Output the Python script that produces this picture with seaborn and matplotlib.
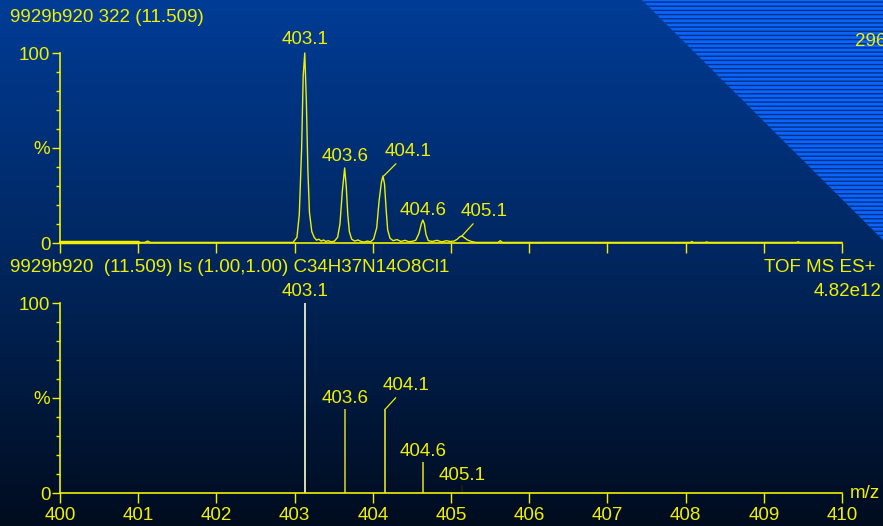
import numpy as np
import matplotlib
matplotlib.use("Agg")
import matplotlib.pyplot as plt
import seaborn as sns
import pandas as pd
from matplotlib.colors import LinearSegmentedColormap
from matplotlib.patches import Polygon

sns.set_theme(style="white")
plt.rcParams['font.family'] = ['Liberation Sans', 'DejaVu Sans']
plt.rcParams['hatch.color'] = "#00307f"

YEL = "#f0f000"
FS = 13.5

profil_mz = [400.00, 401.08, 401.12, 401.16, 402.98, 403.03, 403.06, 403.09, 403.11, 403.13,
             403.15, 403.17, 403.19, 403.22, 403.25, 403.28, 403.31, 403.34, 403.37, 403.40,
             403.43, 403.47, 403.51, 403.55, 403.58, 403.61, 403.64, 403.66, 403.68, 403.70,
             403.73, 403.77, 403.81, 403.85, 403.89, 403.93, 403.97, 404.01, 404.05, 404.08,
             404.11, 404.13, 404.15, 404.17, 404.19, 404.22, 404.26, 404.31, 404.36, 404.41,
             404.46, 404.51, 404.55, 404.59, 404.62, 404.64, 404.66, 404.68, 404.71, 404.76,
             404.82, 404.88, 404.94, 404.99, 405.04, 405.08, 405.11, 405.14, 405.17, 405.21,
             405.26, 405.32, 405.60, 405.63, 405.66, 408.06, 408.08, 408.10, 408.25, 408.27,
             408.29, 409.42, 409.44, 409.46, 410.00]
profil_int = [0.6, 0.3, 1.0, 0.3, 0.3, 3.0, 15.0, 50.0, 88.0, 100.0,
              75.0, 38.0, 16.0, 6.0, 3.0, 1.5, 2.0, 1.0, 1.6, 0.8,
              1.2, 0.6, 1.0, 3.0, 10.0, 27.0, 39.5, 30.0, 15.0, 6.0,
              2.0, 1.0, 1.6, 0.8, 0.5, 1.0, 0.6, 2.0, 8.0, 22.0,
              32.0, 35.3, 31.0, 18.0, 7.0, 2.5, 1.2, 1.8, 0.8, 1.4,
              0.7, 0.9, 1.5, 5.0, 10.0, 12.1, 10.0, 4.5, 1.2, 0.8,
              1.4, 0.6, 1.2, 0.8, 1.0, 2.0, 3.2, 3.7, 2.8, 1.6,
              0.8, 0.3, 0.3, 1.2, 0.3, 0.3, 0.8, 0.3, 0.3, 0.6,
              0.3, 0.3, 0.7, 0.3, 0.3]

# Markierte Peaks im Messspektrum
oben_mz = [403.13, 403.64, 404.14, 404.64, 405.14]
oben_int = [100.0, 39.5, 35.3, 12.1, 3.7]
oben_label = ["403.1", "403.6", "404.1", "404.6", "405.1"]

# berechnetes Isotopenmuster (unten)
iso_mz = [403.13, 403.64, 404.15, 404.64, 405.14]
iso_int = [100.0, 44.2, 43.7, 16.3, 4.2]
iso_label = ["403.1", "403.6", "404.1", "404.6", "405.1"]
iso_farbe = ["#ffffd0", "#c8c828", "#e0e020", "#d0d020", "#202010"]

mz_ticks = list(range(400, 411))

fig = plt.figure(figsize=(8.83, 5.26), dpi=100)

# Hintergrund mit Farbverlauf
bg = fig.add_axes([0, 0, 1, 1], zorder=-10)
cmap = LinearSegmentedColormap.from_list("bg", ["#003c96", "#00265e", "#000c1e"])
bg.imshow(np.linspace(0, 1, 256).reshape(-1, 1), aspect="auto", cmap=cmap,
          extent=[0, 1, 0, 1], origin="upper")
bg.set_xlim(0, 1)
bg.set_ylim(0, 1)
tri = Polygon([[642 / 883, 1], [1, 1], [1, 1 - 240 / 526]], closed=True,
              facecolor="#0a64ff", edgecolor="#00307f", hatch="----", lw=0)
bg.add_patch(tri)
bg.axis("off")

left, width = 60 / 883, 782 / 883
ax1 = fig.add_axes([left, 1 - 243 / 526, width, 190 / 526])
ax2 = fig.add_axes([left, 1 - 493 / 526, width, 190 / 526])

df = pd.DataFrame({"mz": profil_mz, "int": profil_int})
sns.lineplot(data=df, x="mz", y="int", ax=ax1, color=YEL, lw=1.0, clip_on=False)
ax1.plot([400.0, 401.0], [0.3, 0.3], color=YEL, lw=2.5, clip_on=False)

for x, y, c in zip(iso_mz, iso_int, iso_farbe):
    ax2.vlines(x, 0, y, color=c, lw=1.2)

for ax in (ax1, ax2):
    ax.set_facecolor("none")
    ax.patch.set_alpha(0)
    ax.set_xlim(400, 410)
    ax.set_ylim(0, 100)
    for s in ("top", "right"):
        ax.spines[s].set_visible(False)
    for s in ("left", "bottom"):
        ax.spines[s].set_color(YEL)
        ax.spines[s].set_linewidth(1.2)
    ax.set_xticks(mz_ticks)
    ax.set_yticks([0, 50, 100])
    ax.set_yticklabels(["0", "%", "100"])
    ax.set_yticks(np.arange(0, 101, 10), minor=True)
    ax.tick_params(axis="x", direction="out", length=7, width=1, color=YEL,
                   labelcolor=YEL, labelsize=FS, pad=3, bottom=True)
    ax.tick_params(axis="y", which="major", direction="out", length=6, width=1,
                   color=YEL, labelcolor=YEL, labelsize=FS, pad=1, left=True)
    ax.tick_params(axis="y", which="minor", direction="out", length=3, width=1,
                   color=YEL, left=True)
    ax.set_xlabel("")
    ax.set_ylabel("")

ax1.set_xticklabels([])


def beschriften(ax, xs, ys, texte, versatz):
    for x, y, t, (dx, dy) in zip(xs, ys, texte, versatz):
        pfeil = None
        if dx:
            pfeil = dict(arrowstyle="-", color=YEL, lw=0.9, shrinkA=0, shrinkB=0)
        ax.annotate(t, (x, y), xytext=(dx, dy), textcoords="offset pixels",
                    ha="center", va="center", color=YEL, fontsize=FS, arrowprops=pfeil)


beschriften(ax1, oben_mz, oben_int, oben_label, [(0, 13), (0, 11), (24, 24), (0, 10), (22, 24)])
beschriften(ax2, iso_mz, iso_int, iso_label, [(0, 12), (0, 11), (22, 24), (0, 11), (0, 10)])

# Kopfzeilen
fig.text(10 / 883, 1 - 18 / 526, "9929b920 322 (11.509)", color=YEL, fontsize=FS, va="center")
fig.text(855 / 883, 1 - 42 / 526, "296", color=YEL, fontsize=FS, va="center")
fig.text(10 / 883, 1 - 268 / 526, "9929b920  (11.509) Is (1.00,1.00) C34H37N14O8Cl1",
         color=YEL, fontsize=FS, va="center")
fig.text(875 / 883, 1 - 268 / 526, "TOF MS ES+", color=YEL, fontsize=FS, va="center", ha="right")
fig.text(881 / 883, 1 - 292 / 526, "4.82e12", color=YEL, fontsize=FS, va="center", ha="right")
fig.text(850 / 883, 1 - 493 / 526, "m/z", color=YEL, fontsize=FS, va="center")

fig.savefig("out.png", dpi=100)
